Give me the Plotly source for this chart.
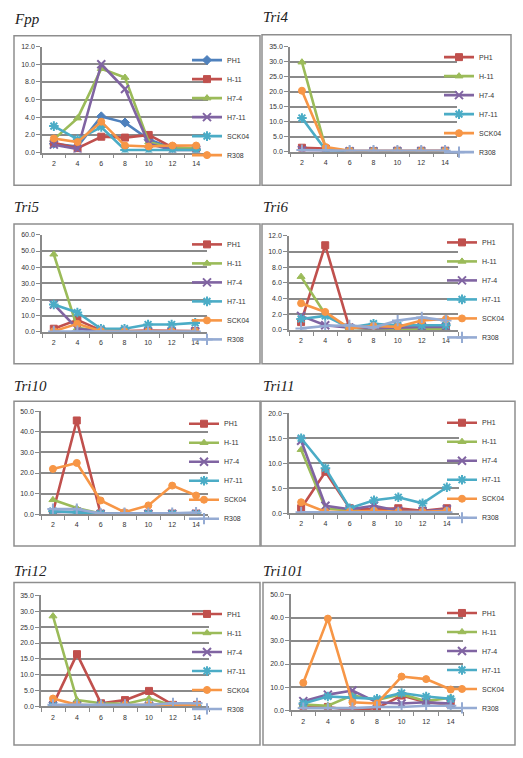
import plotly.graph_objects as go

# ---------------- data ----------------
x_days = [2, 4, 6, 8, 10, 12, 14]
series_names = ["PH1", "H-11", "H7-4", "H7-11", "SCK04", "R308"]

fpp = {
    "PH1":   [1.0, 0.7, 4.1, 3.4, 1.5, 0.5, 0.4],
    "H-11":  [1.1, 0.5, 1.8, 1.7, 2.0, 0.6, 0.5],
    "H7-4":  [1.5, 3.9, 9.5, 8.5, 1.2, 0.5, 0.5],
    "H7-11": [0.9, 0.4, 10.0, 7.2, 1.0, 0.3, 0.3],
    "SCK04": [3.0, 1.5, 2.9, 0.3, 0.3, 0.3, 0.3],
    "R308":  [1.6, 1.2, 3.5, 0.8, 0.7, 0.8, 0.8],
}
tri4 = {
    "PH1":   [1.3, 1.0, 0.2, 0.2, 0.3, 0.3, 0.3],
    "H-11":  [29.8, 1.0, 0.1, 0.1, 0.1, 0.1, 0.1],
    "H7-4":  [0.5, 0.2, 0.1, 0.1, 0.1, 0.1, 0.1],
    "H7-11": [11.2, 0.5, 0.1, 0.1, 0.1, 0.1, 0.1],
    "SCK04": [20.3, 1.5, 0.3, 0.2, 0.2, 0.2, 0.2],
    "R308":  [0.5, 0.3, 0.3, 0.3, 0.3, 0.3, 0.3],
}
tri5 = {
    "PH1":   [2.0, 7.5, 1.0, 0.5, 0.8, 0.5, 0.5],
    "H-11":  [48.0, 2.5, 0.5, 0.3, 0.3, 0.3, 0.3],
    "H7-4":  [17.0, 2.0, 0.5, 0.3, 0.3, 0.3, 0.3],
    "H7-11": [17.0, 12.0, 2.0, 2.0, 4.6, 4.6, 5.6],
    "SCK04": [0.5, 5.0, 0.5, 0.3, 0.3, 0.3, 0.3],
    "R308":  [0.3, 0.5, 0.3, 0.3, 0.3, 0.3, 0.3],
}
tri6 = {
    "PH1":   [1.0, 10.8, 0.3, 0.3, 0.2, 0.2, 0.3],
    "H-11":  [6.8, 2.0, 0.3, 0.1, 0.1, 0.1, 0.1],
    "H7-4":  [1.8, 0.6, 0.3, 0.2, 0.3, 0.4, 0.4],
    "H7-11": [1.4, 1.8, 0.3, 0.8, 0.6, 0.6, 0.6],
    "SCK04": [3.4, 2.3, 0.2, 0.5, 0.4, 1.2, 1.4],
    "R308":  [0.2, 0.5, 0.6, 0.3, 1.2, 1.6, 1.2],
}
tri10 = {
    "PH1":   [1.0, 45.5, 0.3, 0.2, 0.3, 0.3, 0.3],
    "H-11":  [7.0, 3.0, 0.3, 0.2, 0.2, 0.2, 0.2],
    "H7-4":  [1.0, 1.2, 0.2, 0.2, 0.2, 0.2, 0.2],
    "H7-11": [1.5, 1.0, 0.2, 0.2, 0.2, 0.2, 0.2],
    "SCK04": [22.0, 24.9, 6.7, 1.0, 4.3, 13.9, 9.1],
    "R308":  [2.5, 2.5, 0.3, 0.5, 0.5, 0.5, 0.8],
}
tri11 = {
    "PH1":   [1.0, 8.3, 1.0, 0.8, 1.0, 0.5, 1.0],
    "H-11":  [12.7, 1.0, 0.5, 0.3, 0.3, 0.2, 0.3],
    "H7-4":  [14.5, 1.5, 0.8, 1.5, 0.5, 0.4, 0.8],
    "H7-11": [15.0, 9.0, 1.0, 2.6, 3.2, 2.0, 5.2],
    "SCK04": [2.2, 0.3, 0.3, 0.5, 0.3, 0.3, 0.5],
    "R308":  [0.2, 0.2, 0.2, 0.2, 0.2, 0.2, 0.2],
}
tri12 = {
    "PH1":   [0.5, 16.5, 1.0, 2.0, 4.9, 0.5, 0.5],
    "H-11":  [28.5, 2.0, 1.0, 0.8, 2.5, 0.3, 0.3],
    "H7-4":  [0.2, 0.2, 0.2, 0.2, 0.2, 0.2, 0.2],
    "H7-11": [0.2, 0.2, 0.2, 0.2, 0.2, 0.2, 0.2],
    "SCK04": [2.5, 0.5, 0.3, 0.5, 0.5, 0.5, 0.5],
    "R308":  [0.5, 0.5, 0.5, 0.5, 0.5, 1.0, 1.0],
}
tri101 = {
    "PH1":   [2.0, 1.5, 0.0, 1.0, 6.4, 3.5, 2.5],
    "H-11":  [2.5, 2.0, 6.5, 4.5, 7.0, 4.0, 5.5],
    "H7-4":  [4.0, 6.8, 8.6, 3.5, 3.0, 3.5, 3.0],
    "H7-11": [3.0, 6.0, 5.5, 5.0, 7.5, 6.0, 5.0],
    "SCK04": [11.9, 39.6, 3.5, 3.0, 14.6, 13.5, 9.0],
    "R308":  [1.0, 1.0, 1.0, 1.5, 1.5, 2.0, 2.0],
}

panel_titles = ["Fpp", "Tri4", "Tri5", "Tri6", "Tri10", "Tri11", "Tri12", "Tri101"]
panel_values = [fpp, tri4, tri5, tri6, tri10, tri11, tri12, tri101]
panel_ymax = [12, 35, 60, 12, 50, 20, 35, 50]
panel_dtick = [2, 5, 10, 2, 10, 5, 5, 10]

# ---------------- styles ----------------
BLUE, RED, GREEN, PURPLE, CYAN, ORANGE, LBLUE = (
    "#4F81BD", "#C0504D", "#9BBB59", "#8064A2", "#4BACC6", "#F79646", "#95ABD3")
style_fpp = [(BLUE, "diamond"), (RED, "square"), (GREEN, "triangle-up"),
             (PURPLE, "x-thin-open"), (CYAN, "asterisk-open"), (ORANGE, "circle")]
style_tri = [(RED, "square"), (GREEN, "triangle-up"), (PURPLE, "x-thin-open"),
             (CYAN, "asterisk-open"), (ORANGE, "circle"), (LBLUE, "cross-thin-open")]

W, H = 523, 758
def fx(p):
    return p / W
def fy(p):
    return 1 - p / H

# geometry per panel (pixels): plot x0,x1 (x=1..15), y_top (ymax), y_bot (0),
# box l,t,r,b ; title x,y ; legend text x, first item centre y
geom = [
    dict(px=(42, 208), py=(43, 150), box=(14, 32, 260, 183), title=(12, 15), leg=(233, 61)),
    dict(px=(290, 457), py=(43, 149), box=(262, 31, 511, 183), title=(261, 13), leg=(485, 58)),
    dict(px=(42, 207), py=(233, 331), box=(14, 222, 260, 363), title=(12, 205), leg=(233, 247)),
    dict(px=(289, 458), py=(234, 329), box=(262, 222, 513, 363), title=(261, 205), leg=(488, 245)),
    dict(px=(41, 208), py=(411, 515), box=(14, 401, 260, 547), title=(12, 386), leg=(230, 428)),
    dict(px=(289, 459), py=(413, 514), box=(261, 401, 515, 547), title=(261, 386), leg=(488, 427)),
    dict(px=(41, 209), py=(597, 709), box=(14, 584, 260, 748), title=(12, 572), leg=(233, 620)),
    dict(px=(291, 463), py=(596, 713), box=(263, 584, 515, 748), title=(261, 572), leg=(488, 619)),
]

fig = go.Figure()
layout = dict(width=W, height=H, margin=dict(l=0, r=0, t=0, b=0),
              paper_bgcolor="white", plot_bgcolor="white", showlegend=True)
shapes, annotations = [], []
TICKFONT = dict(family="Liberation Sans, Arial, sans-serif", size=7, color="#333333")
GRID = "#8a8a8a"

for i, (title, vals) in enumerate(zip(panel_titles, panel_values)):
    g = geom[i]
    n = i + 1
    xa = "x" if n == 1 else f"x{n}"
    ya = "y" if n == 1 else f"y{n}"
    leg = "legend" if n == 1 else f"legend{n}"
    styles = style_fpp if i == 0 else style_tri
    for (name, (col, sym)) in zip(series_names, styles):
        open_sym = sym.endswith("open")
        fig.add_trace(go.Scatter(
            x=x_days, y=vals[name], name=name, mode="lines+markers",
            xaxis=xa, yaxis=ya, legend=leg,
            line=dict(color=col, width=2.6),
            marker=dict(symbol=sym, size=8 if open_sym else 7, color=col,
                        line=dict(color=col, width=2 if open_sym else 1)),
        ))
    layout["xaxis" if n == 1 else f"xaxis{n}"] = dict(
        domain=[fx(g["px"][0]), fx(g["px"][1])], anchor=ya, range=[1, 15],
        tickvals=x_days, ticktext=[str(v) for v in x_days], ticks="",
        showgrid=False, zeroline=False, showline=True, linecolor=GRID, linewidth=1.5,
        tickfont=TICKFONT, ticklabelstandoff=3,
        minor=dict(tickvals=[1, 3, 5, 7, 9, 11, 13, 15], ticks="outside",
                   ticklen=4, tickcolor=GRID, tickwidth=1, showgrid=False),
        fixedrange=True)
    layout["yaxis" if n == 1 else f"yaxis{n}"] = dict(
        domain=[fy(g["py"][1]), fy(g["py"][0])], anchor=xa,
        range=[0, panel_ymax[i]], dtick=panel_dtick[i], tick0=0, tickformat=".1f",
        showgrid=True, gridcolor=GRID, gridwidth=1.8, zeroline=False,
        showline=True, linecolor=GRID, linewidth=1.5,
        ticks="outside", ticklen=4, tickcolor=GRID, tickfont=TICKFONT,
        fixedrange=True)
    tx, ty = g["leg"]
    layout[leg] = dict(
        x=fx(tx - 46), y=fy(ty - 19), xanchor="left", yanchor="top",
        bgcolor="rgba(0,0,0,0)", borderwidth=0, itemwidth=30,
        font=dict(family="Liberation Sans, Arial, sans-serif", size=7, color="#333333"),
        itemclick=False, itemdoubleclick=False)
    l, t, r, b = g["box"]
    shapes.append(dict(type="rect", xref="paper", yref="paper",
                       x0=fx(l), x1=fx(r), y0=fy(b), y1=fy(t),
                       line=dict(color="#8e8e8e", width=1.5), fillcolor="rgba(0,0,0,0)",
                       layer="below"))
    annotations.append(dict(text=f"<i>{title}</i>", xref="paper", yref="paper",
                            x=fx(g["title"][0]), y=fy(g["title"][1]),
                            xanchor="left", yanchor="middle", showarrow=False,
                            font=dict(family="Liberation Serif, Times New Roman, serif",
                                      size=15, color="#222222")))

layout["shapes"] = shapes
layout["annotations"] = annotations
fig.update_layout(**layout)
fig.write_html("out.html",
               config={"displayModeBar": False},
               post_script="document.body.style.margin='0';document.body.style.padding='0';")
